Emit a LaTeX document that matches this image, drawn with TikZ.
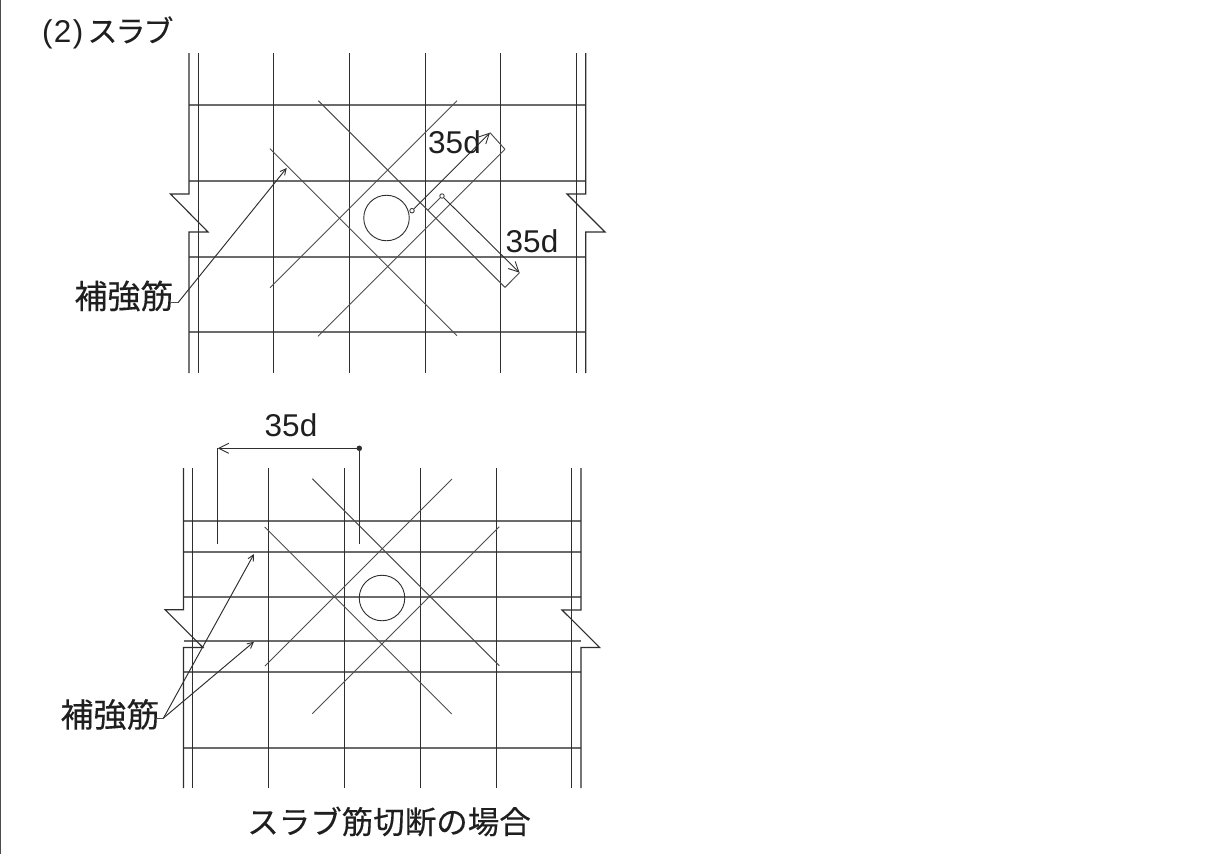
\documentclass[tikz,border=0pt]{standalone}
\usepackage{fontspec}
\setmainfont{Liberation Sans}
\newfontfamily\cjk{Noto Sans CJK JP}[FakeBold=0.25]
\usetikzlibrary{arrows.meta}
\definecolor{ln}{gray}{0.18}
\definecolor{hl}{gray}{0.42}
\tikzset{
  vbar/.style={draw=ln,line width=0.95pt},
  hbar/.style={draw=hl,line width=1.3pt},
  rib/.style={draw=ln!85!white,line width=0.95pt},
  wall/.style={draw=ln,line width=1.1pt,line join=miter},
  leader/.style={draw=ln,line width=0.95pt,-{Straight Barb[length=6pt,width=6pt,line width=0.9pt]}},
  dimline/.style={draw=ln,line width=0.9pt,-{Straight Barb[length=10pt,width=10pt,line width=0.9pt]}},
  lab/.style={inner sep=0pt,outer sep=0pt,text=black!88,font=\fontsize{31.5}{32}\selectfont},
  jp/.style={inner sep=0pt,outer sep=0pt,text=black!88,font=\cjk\fontsize{33}{33}\selectfont},
  hole/.style={draw=ln,line width=0.9pt},
  pin/.style={draw=ln,line width=0.8pt,fill=white,circle,inner sep=0pt,minimum size=4.5pt},
  pinb/.style={draw=ln,fill=ln,circle,inner sep=0pt,minimum size=5pt}
}
\begin{document}
\begin{tikzpicture}[x=1pt,y=-1pt]
\useasboundingbox (0,0) rectangle (1209,854);
\fill[white] (0,0) rectangle (1209,854);
\draw[draw=black!70,line width=1.6pt] (0.6,0) -- (0.6,854);

% title
\node[jp,anchor=west] (title) at (42,32.5) {{\fontspec{Liberation Sans}\fontsize{31.5}{32}\selectfont(\kern1.5pt2\kern1.5pt)}\kern4pt{\fontsize{30}{32}\selectfont ス\kern-2pt ラ\kern-2pt ブ}};

% ---------- upper slab ----------
\foreach \y in {105,181,257,332}
  \draw[hbar] (189,\y) -- (586,\y);
\foreach \x in {198,273.5,349.5,425,500.5,576.5}
  \draw[vbar] (\x,53) -- (\x,373);
\draw[wall] (189,53) -- (189,194) -- (170.5,194) -- (208,232) -- (189,232) -- (189,373);
\draw[wall] (585.7,53) -- (585.7,194) -- (567,194) -- (605,232) -- (585.7,232) -- (585.7,373);
\draw[rib] (318.3,100.7) -- (505,287.4);
\draw[rib] (270,148.7) -- (457,335.7);
\draw[rib] (457,100.7) -- (270,287.7);
\draw[rib] (505,149.3) -- (318,336.3);
\node[hole,circle,inner sep=0pt,minimum size=45.5pt] (holeA) at (386.5,218) {};

\node[pin] (pa) at (412,210.7) {};
\node[pin] (pb) at (442,196) {};
\coordinate (ta) at (490,132.7);
\coordinate (tb) at (519.5,272.7);
\coordinate (ea) at (505,149.3);
\coordinate (eb) at (505,287.4);
\coordinate (sb) at (428,210);
\draw[dimline] (pa) -- (ta);
\draw[dimline] (pb) -- (tb);
\draw[rib] (ta) -- (ea);
\draw[rib] (tb) -- (eb);
\draw[rib] (pb) -- (sb);
\node[lab] (da) at (454.5,142) {35d};
\node[lab] (db) at (532,241) {35d};

\node[jp,anchor=east] (labA) at (173.5,296) {補強筋};
\coordinate (ka) at (178,302.7);
\coordinate (ha) at (286.7,168);
\draw[rib] (171,302.7) -- (ka);
\draw[leader] (ka) -- (ha);

% ---------- lower slab ----------
\foreach \y in {521,552,597,641,672,748}
  \draw[hbar] (184,\y) -- (581,\y);
\foreach \x in {192.7,268.7,344.5,420.5,496,571}
  \draw[vbar] (\x,468) -- (\x,788);
\draw[wall] (183.5,468) -- (183.5,609.7) -- (165,609.7) -- (203,647.5) -- (183.5,647.5) -- (183.5,788);
\draw[wall] (581,468) -- (581,610) -- (562,610) -- (599.7,647.5) -- (581,647.5) -- (581,788);
\draw[rib] (312.3,478.7) -- (499.3,665.7);
\draw[rib] (264.7,527) -- (451.7,714);
\draw[rib] (452,479) -- (265,666);
\draw[rib] (499.3,526.7) -- (312.3,713.7);
\node[hole,circle,inner sep=0pt,minimum size=45.5pt] (holeB) at (382,598) {};

\node[pinb] (pc) at (359.3,448.3) {};
\coordinate (tc) at (217.8,448.3);
\coordinate (lc) at (217.8,544);
\coordinate (rc) at (359.3,544);
\draw[dimline] (pc) -- (tc);
\draw[vbar] (tc) -- (lc);
\draw[vbar] (pc) -- (rc);
\node[lab] (dc) at (291,425) {35d};

\node[jp,anchor=east] (labB) at (159.5,714.5) {補強筋};
\coordinate (kb) at (163.5,718);
\coordinate (hb) at (254,554);
\coordinate (hc) at (254,641.7);
\draw[rib] (156,718) -- (kb);
\draw[leader] (kb) -- (hb);
\draw[leader] (kb) -- (hc);

\node[jp,font=\cjk\fontsize{31.5}{32}\selectfont] (cap) at (389,821.5) {スラブ筋切断の場合};
\end{tikzpicture}
\end{document}
